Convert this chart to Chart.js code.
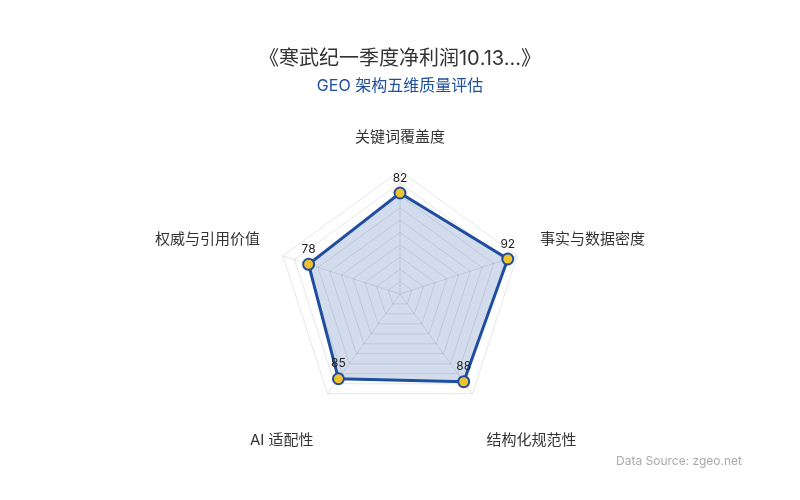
<!DOCTYPE html>
<html>
<head>
<meta charset="utf-8">
<script src="https://cdn.jsdelivr.net/npm/chart.js@4"></script>
<style>
  html, body { margin: 0; padding: 0; background: #fff; }
  #wrap { width: 800px; height: 500px; position: relative; }
  #source { position: absolute; right: 58px; bottom: 32px; font: 12px Inter, "Noto Sans CJK SC", sans-serif; color: #aaa; }
</style>
</head>
<body>
<div id="wrap">
  <canvas id="radarChart" width="800" height="500"></canvas>
  <div id="source">Data Source: zgeo.net</div>
</div>
<script>
// chart data
const dimensions = ["关键词覆盖度", "事实与数据密度", "结构化规范性", "AI 适配性", "权威与引用价值"];
const scores = [82, 92, 88, 85, 78];
const titleText = "《寒武纪一季度净利润10.13...》";
const subtitleText = "GEO 架构五维质量评估";

const fontFamily = "Inter, 'Noto Sans CJK SC', sans-serif";

// draw score numbers above each point
const valueLabels = {
    id: "valueLabels",
    afterDatasetsDraw(chart) {
        const c = chart.ctx;
        const meta = chart.getDatasetMeta(0);
        c.save();
        c.font = "12px " + fontFamily;
        c.fillStyle = "#222";
        c.textAlign = "center";
        c.textBaseline = "middle";
        meta.data.forEach((pt, i) => {
            c.fillText(scores[i], pt.x, pt.y - 15);
        });
        c.restore();
    }
};

const ctx = document.getElementById("radarChart");
new Chart(ctx, {
    type: "radar",
    data: {
        labels: dimensions,
        datasets: [{
            label: "评分",
            data: scores,
            borderColor: "#1f4e9f",
            backgroundColor: "rgba(31,78,159,0.2)",
            borderWidth: 3,
            pointBackgroundColor: "#f2c12e",
            pointBorderColor: "#1f4e9f",
            pointBorderWidth: 2,
            pointRadius: 5.5,
            fill: true,
        }]
    },
    options: {
        responsive: false,
        animation: false,
        layout: { padding: { top: 14, bottom: 42, left: 155, right: 155 } },
        plugins: {
            legend: { display: false },
            tooltip: { enabled: false },
            title: {
                display: true,
                text: titleText,
                color: "#333",
                font: { size: 20, family: fontFamily, weight: "normal" },
                padding: { top: 33, bottom: 6 }
            },
            subtitle: {
                display: true,
                text: subtitleText,
                color: "#1f4e9f",
                font: { size: 16, family: fontFamily },
                padding: { bottom: 21 }
            }
        },
        scales: {
            r: {
                min: 0,
                max: 100,
                ticks: { stepSize: 10, display: false },
                grid: { color: "rgba(0,0,0,0.1)" },
                angleLines: { color: "rgba(0,0,0,0.1)" },
                pointLabels: {
                    color: "#333",
                    padding: 24,
                    font: { size: 15, family: fontFamily },
                    // push the two bottom labels down a line
                    callback: (label, i) => (i === 2 || i === 3) ? ["", label] : label
                }
            }
        }
    },
    plugins: [valueLabels]
});
</script>
</body>
</html>
